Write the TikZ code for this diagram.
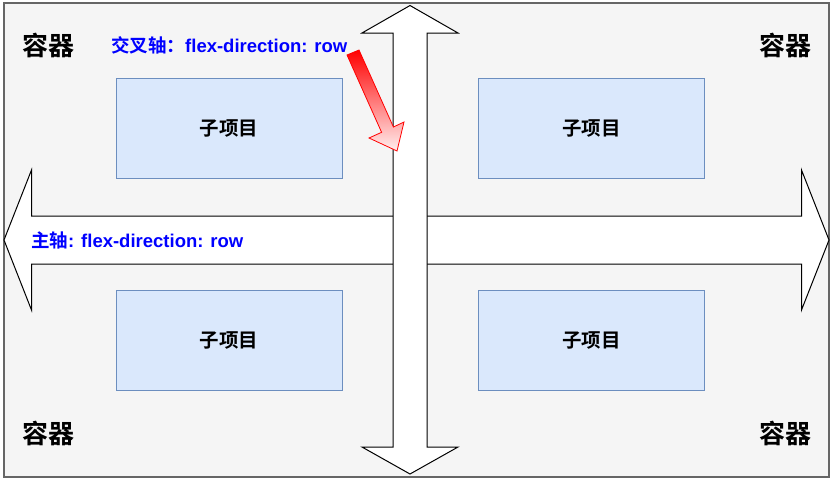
\documentclass[tikz,border=0pt]{standalone}
\usepackage{fontspec}
\setmainfont{Liberation Sans}
\newfontfamily\cjk{Noto Sans CJK SC}[BoldFont={Noto Sans CJK SC Bold}]
\usepackage{xcolor}
\usepackage{tikz}
\usetikzlibrary{positioning,calc}
\definecolor{boxbg}{HTML}{F5F5F5}
\definecolor{boxline}{HTML}{666666}
\definecolor{itemfill}{HTML}{DAE8FC}
\definecolor{itemline}{HTML}{6C8EBF}
\definecolor{axisblue}{HTML}{0000FF}
\definecolor{hintred}{HTML}{FF0000}
\tikzset{
  item/.style={draw=itemline,fill=itemfill,minimum width=226pt,minimum height=100pt,
    inner sep=0pt,font=\fontsize{19.5}{21}\selectfont\bfseries\cjk},
  boxlabel/.style={font=\fontsize{26}{28}\selectfont\bfseries\cjk},
  axislabel/.style={text=axisblue,font=\fontsize{18.5}{20}\selectfont\bfseries,inner sep=0pt},
  axisarrow/.style={draw=black,fill=white,line width=1pt,line join=miter}
}
\begin{document}
\begin{tikzpicture}[x=1pt,y=-1pt]
  \useasboundingbox (0,0) rectangle (834,482);
  % 容器
  \filldraw[fill=boxbg,draw=boxline,line width=1.2pt] (4,3) rectangle (829,477);
  \node[boxlabel] (c1) at (48,45) {容器};
  \node[boxlabel] (c2) at (785,45) {容器};
  \node[boxlabel] (c3) at (48,433) {容器};
  \node[boxlabel] (c4) at (785,433) {容器};
  % 子项目
  \node[item] (i1) at (229,128) {子项目};
  \node[item] (i2) at (591.5,128) {子项目};
  \node[item] (i3) at (229,340) {子项目};
  \node[item] (i4) at (591.5,340) {子项目};
  % 主轴（水平双箭头）
  \draw[axisarrow] (4,240) -- (31.5,170) -- (31.5,216) -- (801.5,216) -- (801.5,170)
    -- (829,240) -- (801.5,310) -- (801.5,264) -- (31.5,264) -- (31.5,310) -- cycle;
  % 交叉轴（竖直双箭头）
  \draw[axisarrow] (410,5.5) -- (458,33) -- (427,33) -- (427,447) -- (458,447)
    -- (410,474) -- (362,447) -- (393,447) -- (393,33) -- (362,33) -- cycle;
  % 文字
  \node[axislabel,anchor=west] (main) at (31,240) {{\cjk 主轴}: flex-direction: row};
  \node[axislabel,anchor=west] (cross) at (111,45) {{\cjk 交叉轴：}flex-direction: row};
  % 红色提示箭头
  \shadedraw[top color=hintred,bottom color=hintred!6,draw=hintred,line width=0.8pt]
    (347,55) -- (359,50) -- (393.4,127) -- (404,122) -- (397,151)
    -- (369,138) -- (381.6,132.3) -- cycle;
\end{tikzpicture}
\end{document}
